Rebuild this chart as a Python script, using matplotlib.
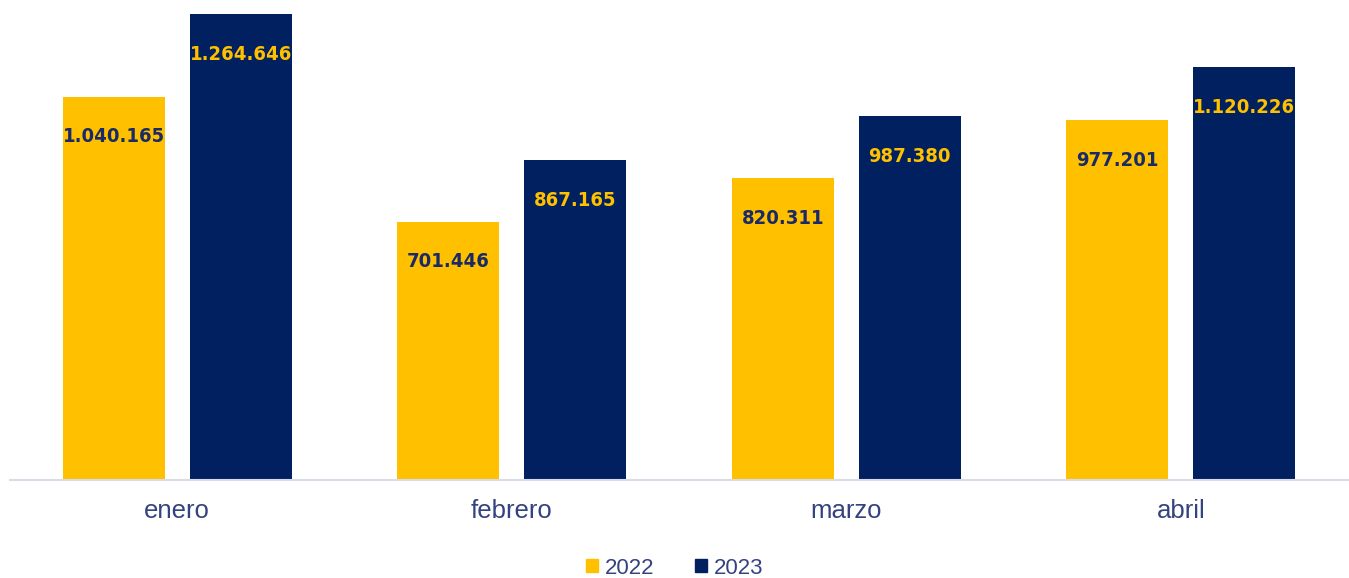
import matplotlib.pyplot as plt
import numpy as np
from matplotlib.patches import Patch
from matplotlib import font_manager

# Data
months = ['enero', 'febrero', 'marzo', 'abril']
v2022 = [1040165, 701446, 820311, 977201]
v2023 = [1264646, 867165, 987380, 1120226]
series_names = ['2022', '2023']

yellow = '#FFC000'
navy = '#00205F'

def fmt(v):
    return f'{v:,}'.replace(',', '.')

# pick a narrow bold font if one is installed, otherwise plain Liberation Sans bold
label_kw = dict(family='Liberation Sans', fontsize=16)
for f in font_manager.fontManager.ttflist:
    if ('Narrow' in f.name or f.stretch in ('condensed', 'semi-condensed')) and f.weight in (700, 'bold'):
        label_kw = dict(family=f.name, fontstretch=f.stretch, fontsize=18 if 'Narrow' in f.name else 14.5)
        break

fig = plt.figure(figsize=(13.49, 5.78), dpi=100)
ax = fig.add_axes([10 / 1349, 98 / 578, 1338 / 1349, 480 / 578])

x = np.arange(len(months))
w = 0.305
off = 0.19
b1 = ax.bar(x - off, v2022, w, color=yellow)
b2 = ax.bar(x + off, v2023, w, color=navy)

ax.set_xlim(-0.5, len(months) - 0.5)
ax.set_ylim(0, 1264646 * 480 / 466)

for bars, vals, col in [(b1, v2022, '#1A2A66'), (b2, v2023, yellow)]:
    for r, v in zip(bars, vals):
        ax.annotate(fmt(v), (r.get_x() + r.get_width() / 2, v),
                    xytext=(0, -29), textcoords='offset points',
                    ha='center', va='center', fontweight='bold', color=col,
                    **label_kw)

for s in ['top', 'right', 'left']:
    ax.spines[s].set_visible(False)
ax.spines['bottom'].set_color('#D9DCE6')
ax.spines['bottom'].set_linewidth(1.5)
ax.set_yticks([])
ax.set_xticks(x)
ax.set_xticklabels(months, fontsize=18.5, color='#34437F', family='Liberation Sans')
ax.tick_params(axis='x', length=0, pad=14)

handles = [Patch(color=yellow), Patch(color=navy)]
fig.legend(handles, series_names, loc='center', bbox_to_anchor=(0.5, 10 / 578),
           ncol=2, frameon=False, handlelength=0.55, handleheight=0.55,
           handletextpad=0.3, columnspacing=1.8,
           prop={'family': 'Liberation Sans', 'size': 16}, labelcolor='#34437F')

fig.savefig('out.png', dpi=100)
